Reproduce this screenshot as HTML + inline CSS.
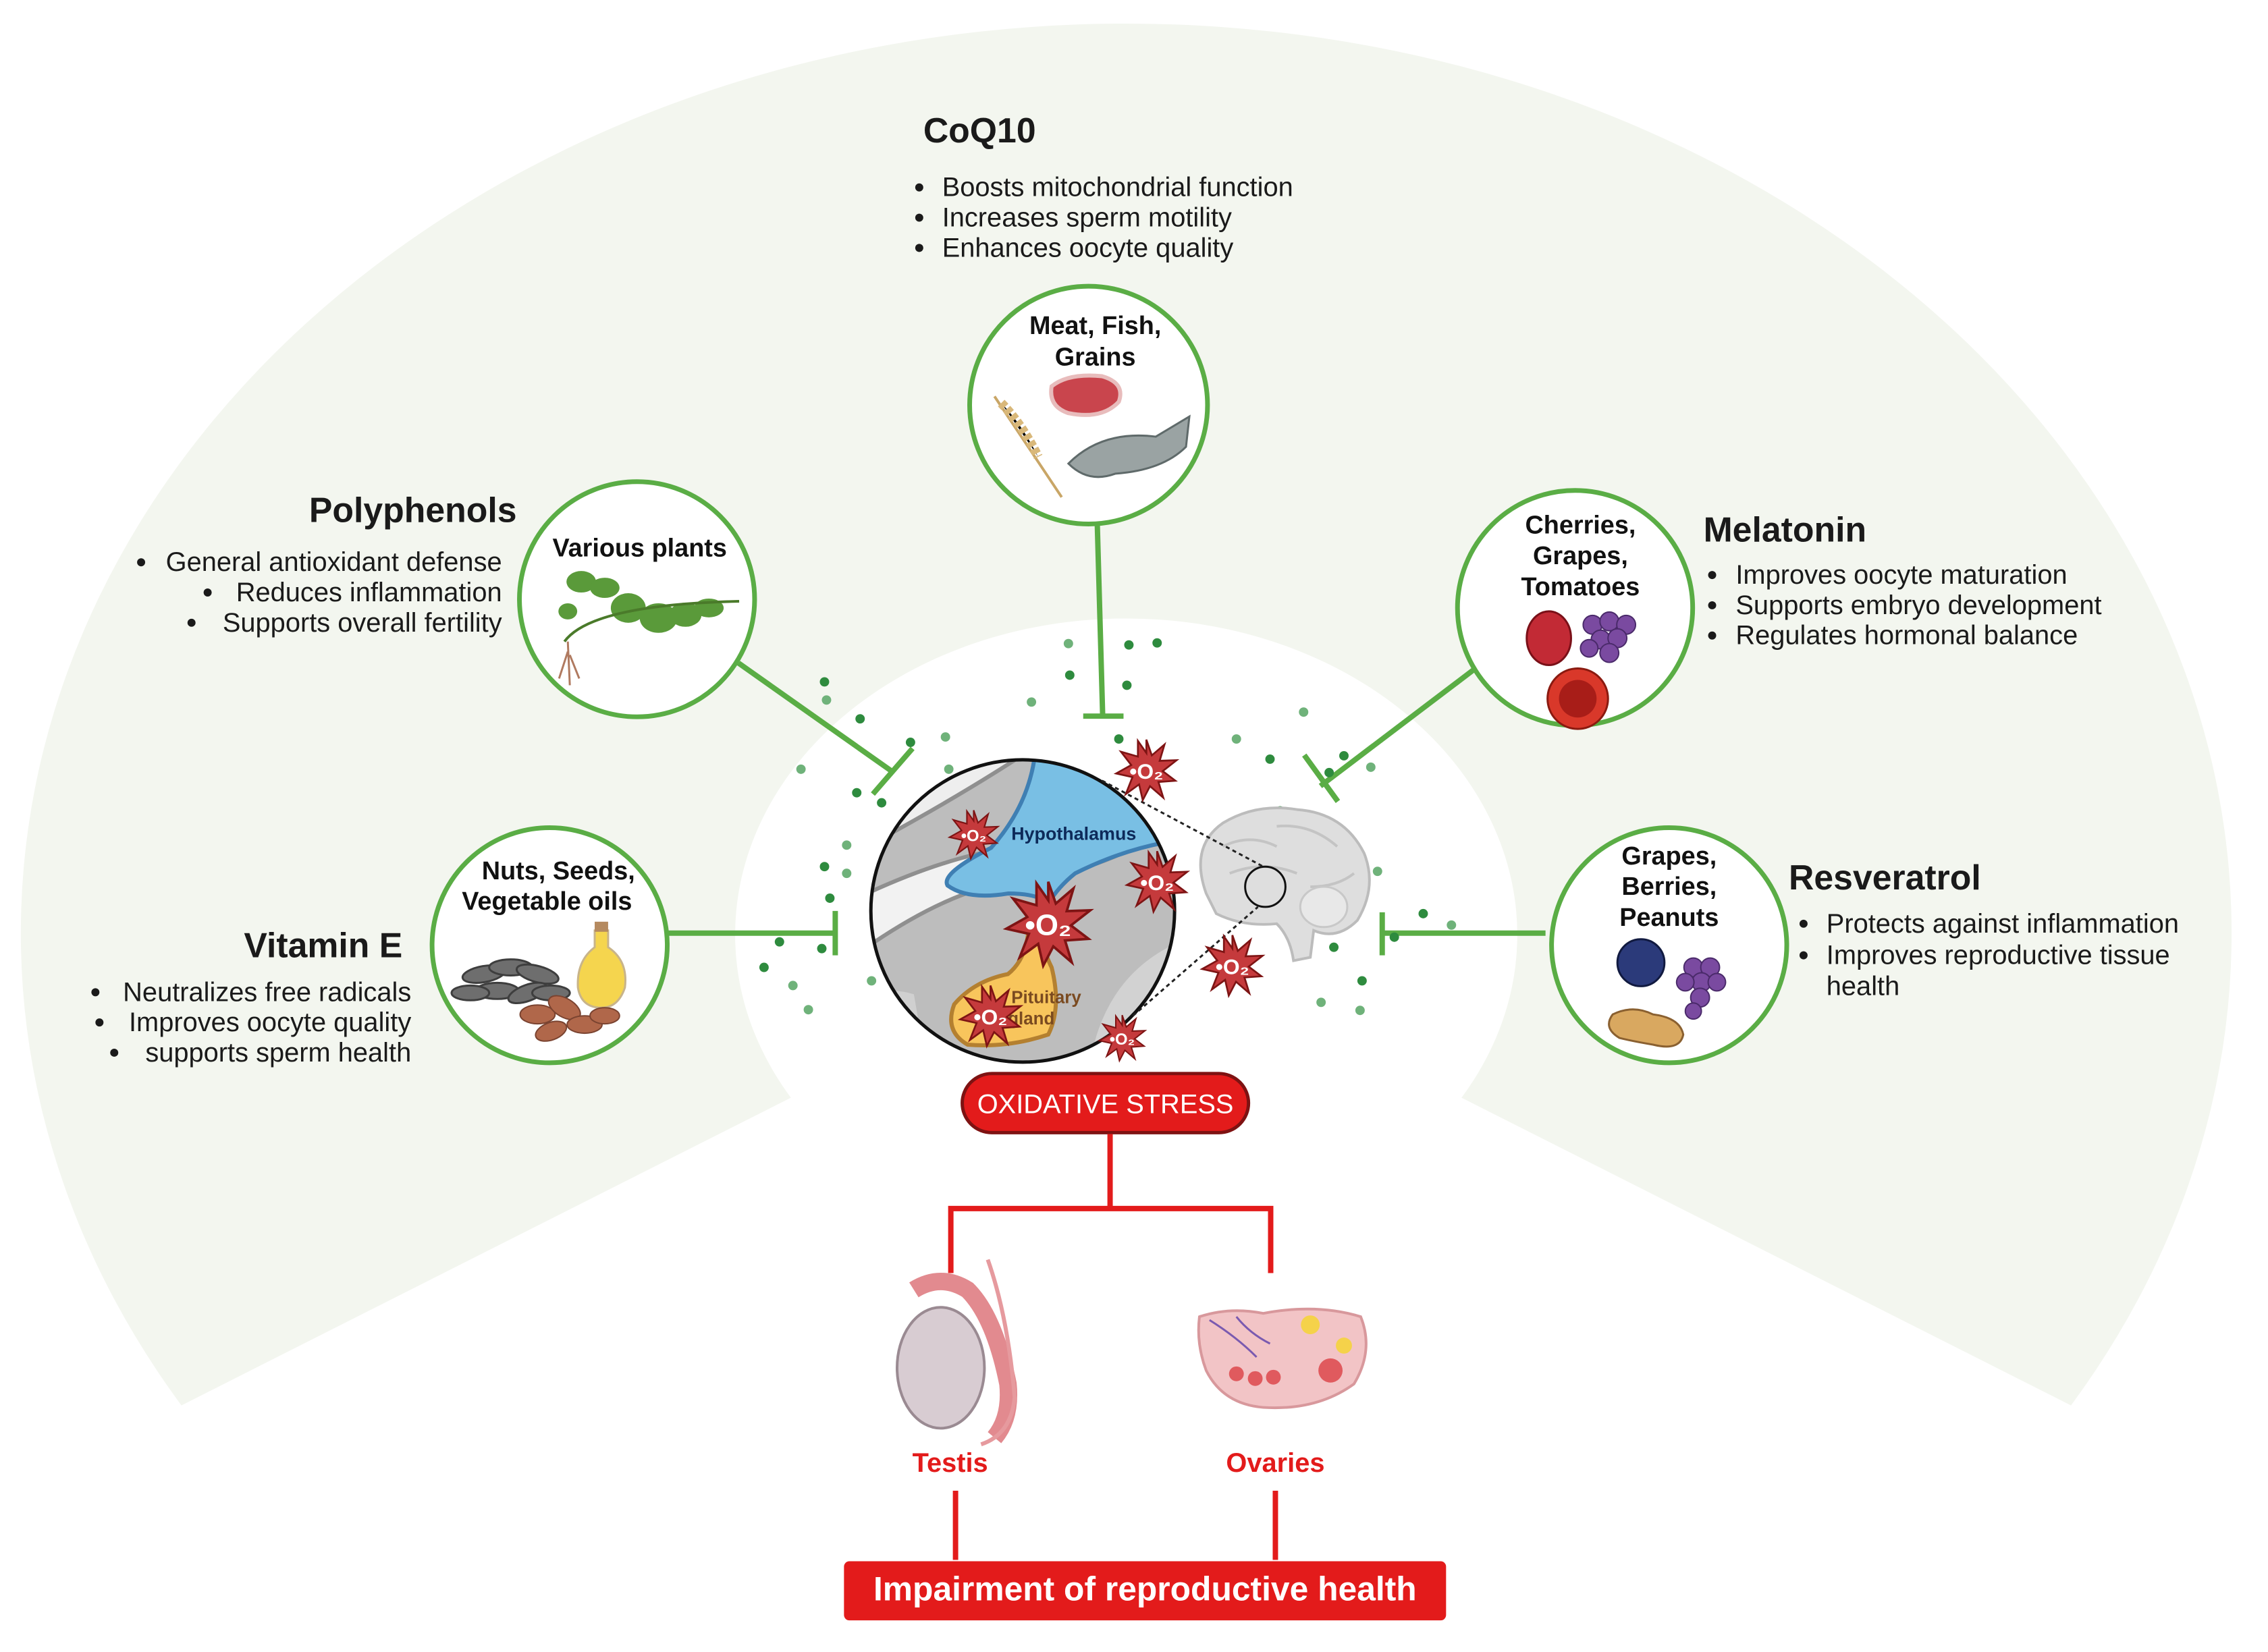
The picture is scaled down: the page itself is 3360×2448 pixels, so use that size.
<!DOCTYPE html>
<html><head><meta charset="utf-8"><style>
html,body{margin:0;padding:0;background:#fff;}
svg{display:block;font-family:"Liberation Sans",Arial,sans-serif;}
</style></head><body>
<svg width="3360" height="2448" viewBox="0 0 3360 2448" xmlns="http://www.w3.org/2000/svg">
<defs>
<clipPath id="cc"><ellipse cx="1522" cy="1356" rx="226" ry="225"/></clipPath>
<g id="star">
<polygon points="0,-50 9,-24 30,-42 22,-15 50,-16 27,2 48,18 20,20 28,46 6,27 -6,50 -12,24 -34,40 -23,12 -50,6 -25,-8 -42,-30 -14,-22 -14,-48 0,-28" fill="#c53a3c" stroke="#7e1414" stroke-width="3"/>
</g>
</defs>
<g transform="scale(0.9955)">
<!-- fan -->
<path d="M270,2092 A1645,1354 0 1,1 3082,2092 L2175,1634 A582,471 0 1,0 1177,1634 Z" fill="#f3f6ef"/>

<!-- connectors -->
<g stroke="#5aad45" stroke-width="8" fill="none" stroke-linecap="butt">
<line x1="1633" y1="782" x2="1641" y2="1066"/><line x1="1612" y1="1066" x2="1672" y2="1066"/>
<line x1="1099" y1="987" x2="1330" y2="1150"/><line x1="1299" y1="1182" x2="1358" y2="1114"/>
<line x1="995" y1="1389" x2="1243" y2="1389"/><line x1="1243" y1="1356" x2="1243" y2="1422"/>
<line x1="2193" y1="997" x2="1965" y2="1170"/><line x1="1941" y1="1124" x2="1991" y2="1193"/>
<line x1="2300" y1="1389" x2="2057" y2="1389"/><line x1="2057" y1="1358" x2="2057" y2="1422"/>
</g>

<!-- green dots -->
<g fill="#2e8b3e">
<circle cx="1227" cy="1015" r="7"/><circle cx="1280" cy="1070" r="7"/><circle cx="1355" cy="1105" r="7"/><circle cx="1275" cy="1180" r="7"/><circle cx="1312" cy="1195" r="7"/>
<circle cx="1227" cy="1290" r="7"/><circle cx="1235" cy="1337" r="7"/><circle cx="1160" cy="1402" r="7"/><circle cx="1223" cy="1412" r="7"/><circle cx="1137" cy="1440" r="7"/>
<circle cx="1680" cy="960" r="7"/><circle cx="1677" cy="1020" r="7"/><circle cx="1592" cy="1005" r="7"/><circle cx="1665" cy="1100" r="7"/><circle cx="1722" cy="957" r="7"/>
<circle cx="1890" cy="1130" r="7"/><circle cx="1978" cy="1150" r="7"/><circle cx="2000" cy="1125" r="7"/><circle cx="1905" cy="1207" r="7"/>
<circle cx="2118" cy="1360" r="7"/><circle cx="2075" cy="1395" r="7"/><circle cx="2027" cy="1460" r="7"/><circle cx="2007" cy="1369" r="7"/><circle cx="1985" cy="1410" r="7"/>
</g>
<g fill="#6fb27a">
<circle cx="1230" cy="1042" r="7"/><circle cx="1192" cy="1145" r="7"/><circle cx="1260" cy="1258" r="7"/><circle cx="1180" cy="1467" r="7"/><circle cx="1203" cy="1503" r="7"/><circle cx="1297" cy="1460" r="7"/>
<circle cx="1590" cy="958" r="7"/><circle cx="1535" cy="1045" r="7"/><circle cx="1407" cy="1097" r="7"/><circle cx="1412" cy="1145" r="7"/><circle cx="1260" cy="1300" r="7"/>
<circle cx="1840" cy="1100" r="7"/><circle cx="1940" cy="1060" r="7"/><circle cx="2040" cy="1142" r="7"/><circle cx="1838" cy="1300" r="7"/><circle cx="2050" cy="1297" r="7"/><circle cx="2160" cy="1377" r="7"/><circle cx="1966" cy="1492" r="7"/><circle cx="2024" cy="1504" r="7"/>
</g>

<!-- central circle -->
<g clip-path="url(#cc)">
<rect x="1290" y="1125" width="470" height="470" fill="#bdbdbd"/>
<path d="M1290,1330 Q1420,1270 1520,1260 Q1640,1240 1760,1170 L1760,1220 Q1640,1300 1520,1310 Q1420,1320 1290,1410 Z" fill="#f2f2f2" stroke="#8f8f8f" stroke-width="6"/>
<path d="M1290,1190 Q1380,1160 1460,1125 L1520,1125 Q1420,1190 1290,1260 Z" fill="#eeeeee" stroke="#8f8f8f" stroke-width="6"/>
<path d="M1620,1595 Q1640,1450 1760,1400 L1760,1595 Z" fill="#d2d2d2"/>
<path d="M1290,1480 Q1330,1470 1360,1480 L1380,1595 L1290,1595 Z" fill="#d0d0d0"/>
<path d="M1540,1125 Q1530,1200 1475,1262 Q1400,1300 1410,1318 Q1440,1340 1500,1330 Q1545,1330 1560,1345 Q1575,1320 1600,1300 Q1680,1260 1760,1250 L1760,1125 Z" fill="#79bfe4" stroke="#3f7fb3" stroke-width="6"/>
<path d="M1545,1385 Q1555,1420 1565,1440 Q1580,1500 1560,1540 Q1500,1560 1440,1555 Q1405,1535 1420,1495 Q1450,1460 1500,1450 Q1525,1430 1530,1390 Z" fill="#f8c55c" stroke="#b48030" stroke-width="6"/>
<text x="1505" y="1493" font-size="26" font-weight="bold" fill="#7a4a20">Pituitary</text>
<text x="1500" y="1525" font-size="26" font-weight="bold" fill="#7a4a20">gland</text>
</g>
<ellipse cx="1522" cy="1356" rx="226" ry="225" fill="none" stroke="#111" stroke-width="5"/>
<text x="1505" y="1250" font-size="27" font-weight="bold" fill="#0d2a5a">Hypothalamus</text>

<!-- brain -->
<g>
<path d="M1795,1330 Q1770,1260 1820,1225 Q1870,1195 1930,1205 Q2000,1210 2030,1270 Q2050,1320 2020,1370 Q1990,1400 1955,1385 L1950,1425 L1925,1430 Q1920,1395 1900,1375 Q1850,1380 1810,1360 Z" fill="#dedede" stroke="#bcbcbc" stroke-width="4"/>
<path d="M1820,1260 Q1860,1240 1900,1260 M1830,1300 Q1880,1280 1930,1300 M1900,1230 Q1950,1225 1990,1260 M1950,1320 Q1990,1320 2015,1300" stroke="#c4c4c4" stroke-width="4" fill="none"/>
<ellipse cx="1970" cy="1350" rx="35" ry="30" fill="#e8e8e8" stroke="#c8c8c8" stroke-width="3"/>
<ellipse cx="1883" cy="1320" rx="30" ry="30" fill="none" stroke="#111" stroke-width="3"/>
</g>
<g stroke="#222" stroke-width="3" stroke-dasharray="6,5">
<line x1="1640" y1="1162" x2="1880" y2="1290"/>
<line x1="1686" y1="1512" x2="1872" y2="1350"/>
</g>

<!-- O2 stars -->
<g font-weight="bold" fill="#fff" text-anchor="middle">
<use href="#star" transform="translate(1706,1146) scale(0.9)"/><text x="1706" y="1159" font-size="32">•O₂</text>
<use href="#star" transform="translate(1449,1242) scale(0.72)"/><text x="1449" y="1252" font-size="24">•O₂</text>
<use href="#star" transform="translate(1560,1375) scale(1.25)"/><text x="1560" y="1392" font-size="44">•O₂</text>
<use href="#star" transform="translate(1722,1312) scale(0.9)"/><text x="1722" y="1325" font-size="32">•O₂</text>
<use href="#star" transform="translate(1474,1512) scale(0.9)"/><text x="1474" y="1525" font-size="32">•O₂</text>
<use href="#star" transform="translate(1834,1437) scale(0.9)"/><text x="1834" y="1450" font-size="32">•O₂</text>
<use href="#star" transform="translate(1670,1545) scale(0.68)"/><text x="1670" y="1555" font-size="24">•O₂</text>
</g>

<!-- nutrient circles -->
<g fill="#fff" stroke="#5aad45" stroke-width="7">
<circle cx="1620" cy="603" r="177"/>
<circle cx="948" cy="892" r="175"/>
<circle cx="818" cy="1407" r="175"/>
<circle cx="2344" cy="905" r="175"/>
<circle cx="2484" cy="1407" r="175"/>
</g>

<!-- icons -->
<path d="M1565,575 Q1590,555 1640,560 Q1675,570 1665,598 Q1640,625 1590,615 Q1560,605 1565,575Z" fill="#c9454d" stroke="#e8bcbc" stroke-width="6"/>
<path d="M1590,690 Q1640,640 1720,650 L1770,620 L1765,665 Q1730,700 1660,705 Q1620,720 1590,690Z" fill="#9aa3a3" stroke="#5f6a6a" stroke-width="3"/>
<path d="M1480,590 L1580,740" stroke="#c9a667" stroke-width="4"/>
<path d="M1490,600 Q1520,630 1545,680" stroke="#d9b87a" stroke-width="14" stroke-dasharray="8,4"/>
<g fill="#5a9a3a">
<ellipse cx="865" cy="866" rx="22" ry="16"/><ellipse cx="900" cy="875" rx="22" ry="15"/><ellipse cx="935" cy="905" rx="26" ry="22"/><ellipse cx="980" cy="920" rx="28" ry="22"/><ellipse cx="1020" cy="915" rx="24" ry="18"/><ellipse cx="1055" cy="905" rx="22" ry="14"/><ellipse cx="845" cy="910" rx="14" ry="12"/>
</g>
<path d="M840,955 Q880,900 1100,895" stroke="#4a7a2a" stroke-width="4" fill="none"/>
<path d="M845,955 L848,1020 M845,970 L832,1010 M848,975 L862,1010" stroke="#b07a60" stroke-width="3"/>
<g fill="#6e6e6e" stroke="#3e3e3e" stroke-width="3">
<ellipse cx="720" cy="1450" rx="32" ry="12" transform="rotate(-10 720 1450)"/><ellipse cx="760" cy="1440" rx="32" ry="12"/><ellipse cx="800" cy="1450" rx="32" ry="12" transform="rotate(15 800 1450)"/><ellipse cx="740" cy="1475" rx="32" ry="12"/><ellipse cx="785" cy="1478" rx="30" ry="12" transform="rotate(-20 785 1478)"/><ellipse cx="700" cy="1478" rx="28" ry="11"/><ellipse cx="820" cy="1478" rx="28" ry="11"/>
</g>
<path d="M885,1385 L905,1385 L905,1410 Q935,1430 930,1470 Q920,1500 895,1500 Q865,1500 860,1470 Q858,1430 885,1410Z" fill="#f5d54e" stroke="#c8b48a" stroke-width="3"/>
<rect x="885" y="1372" width="20" height="15" fill="#b58a60"/>
<g fill="#b0674a" stroke="#7a4330" stroke-width="2">
<ellipse cx="800" cy="1510" rx="26" ry="14"/><ellipse cx="840" cy="1500" rx="26" ry="14" transform="rotate(30 840 1500)"/><ellipse cx="870" cy="1525" rx="26" ry="13"/><ellipse cx="820" cy="1535" rx="24" ry="13" transform="rotate(-20 820 1535)"/><ellipse cx="900" cy="1512" rx="22" ry="12"/>
</g>
<ellipse cx="2305" cy="950" rx="33" ry="40" fill="#c22a35" stroke="#7a1018" stroke-width="3"/>
<g fill="#7a4aa0" stroke="#4a2a6a" stroke-width="2">
<circle cx="2370" cy="930" r="14"/><circle cx="2395" cy="925" r="14"/><circle cx="2420" cy="930" r="14"/><circle cx="2382" cy="952" r="14"/><circle cx="2407" cy="950" r="14"/><circle cx="2395" cy="972" r="14"/><circle cx="2365" cy="965" r="13"/>
</g>
<circle cx="2348" cy="1040" r="45" fill="#d9382a" stroke="#8a1a10" stroke-width="3"/>
<circle cx="2348" cy="1040" r="28" fill="#a81d18"/>
<circle cx="2442" cy="1433" r="35" fill="#2b3a7a" stroke="#111a40" stroke-width="3"/>
<g fill="#7a4aa0" stroke="#4a2a6a" stroke-width="2">
<circle cx="2520" cy="1440" r="14"/><circle cx="2545" cy="1440" r="14"/><circle cx="2532" cy="1462" r="14"/><circle cx="2508" cy="1462" r="13"/><circle cx="2555" cy="1462" r="13"/><circle cx="2530" cy="1485" r="14"/><circle cx="2520" cy="1505" r="12"/>
</g>
<path d="M2400,1510 Q2430,1495 2460,1510 Q2500,1515 2505,1540 Q2500,1565 2460,1555 Q2430,1550 2410,1545 Q2385,1530 2400,1510Z" fill="#d9a860" stroke="#8a6030" stroke-width="3"/>

<!-- nutrient texts -->
<g font-weight="bold" fill="#111" font-size="38" text-anchor="middle">
<text x="1630" y="497">Meat, Fish,</text><text x="1630" y="544">Grains</text>
<text x="952" y="828">Various plants</text>
<text x="831" y="1309">Nuts, Seeds,</text><text x="814" y="1354">Vegetable oils</text>
<text x="2352" y="794">Cherries,</text><text x="2352" y="840">Grapes,</text><text x="2352" y="886">Tomatoes</text>
<text x="2484" y="1287">Grapes,</text><text x="2484" y="1332">Berries,</text><text x="2484" y="1378">Peanuts</text>
</g>

<g fill="#1a1a1a">
<text x="1374" y="212" font-size="52" font-weight="bold">CoQ10</text>
<g font-size="40">
<text x="1402" y="292">Boosts mitochondrial function</text>
<text x="1402" y="337">Increases sperm motility</text>
<text x="1402" y="382">Enhances oocyte quality</text>
</g>
<g><circle cx="1368" cy="279" r="6"/><circle cx="1368" cy="324" r="6"/><circle cx="1368" cy="369" r="6"/></g>

<text x="769" y="777" font-size="52" font-weight="bold" text-anchor="end">Polyphenols</text>
<g font-size="40" text-anchor="end">
<text x="747" y="850">General antioxidant defense</text>
<text x="747" y="895">Reduces inflammation</text>
<text x="747" y="940">Supports overall fertility</text>
</g>
<circle cx="210" cy="837" r="6"/><circle cx="309" cy="882" r="6"/><circle cx="285" cy="927" r="6"/>

<text x="599" y="1425" font-size="52" font-weight="bold" text-anchor="end">Vitamin E</text>
<g font-size="40" text-anchor="end">
<text x="612" y="1490">Neutralizes free radicals</text>
<text x="612" y="1535">Improves oocyte quality</text>
<text x="612" y="1580">supports sperm health</text>
</g>
<circle cx="142" cy="1477" r="6"/><circle cx="148" cy="1522" r="6"/><circle cx="170" cy="1567" r="6"/>

<text x="2535" y="806" font-size="52" font-weight="bold">Melatonin</text>
<g font-size="40">
<text x="2583" y="869">Improves oocyte maturation</text>
<text x="2583" y="914">Supports embryo development</text>
<text x="2583" y="959">Regulates hormonal balance</text>
</g>
<circle cx="2548" cy="856" r="6"/><circle cx="2548" cy="901" r="6"/><circle cx="2548" cy="946" r="6"/>

<text x="2662" y="1324" font-size="52" font-weight="bold">Resveratrol</text>
<g font-size="40">
<text x="2718" y="1388">Protects against inflammation</text>
<text x="2718" y="1435">Improves reproductive tissue</text>
<text x="2718" y="1481">health</text>
</g>
<circle cx="2684" cy="1375" r="6"/><circle cx="2684" cy="1422" r="6"/>
</g>

<!-- oxidative stress -->
<rect x="1432" y="1598" width="426" height="88" rx="44" fill="#e31b1b" stroke="#7e1212" stroke-width="5"/>
<text x="1645" y="1657" font-size="40" fill="#fff" text-anchor="middle">OXIDATIVE STRESS</text>
<g stroke="#e31b1b" stroke-width="8" fill="none">
<path d="M1652,1688 L1652,1799 M1415,1895 L1415,1799 L1891,1799 L1891,1895"/>
<line x1="1422" y1="2219" x2="1422" y2="2322"/><line x1="1898" y1="2219" x2="1898" y2="2322"/>
</g>
<path d="M1360,1920 Q1400,1895 1440,1920 Q1480,1960 1500,2060 Q1505,2110 1480,2140" stroke="#e28a8f" stroke-width="26" fill="none"/>
<path d="M1470,1875 Q1500,1960 1510,2080 Q1505,2135 1460,2150" stroke="#e69a9e" stroke-width="6" fill="none"/>
<ellipse cx="1400" cy="2036" rx="65" ry="90" fill="#d8ccd2" stroke="#9a8a92" stroke-width="4"/>
<path d="M1785,1960 Q1830,1945 1880,1955 Q1960,1940 2025,1960 Q2045,2010 2015,2060 Q1960,2100 1880,2095 Q1820,2090 1795,2040 Q1780,2000 1785,1960Z" fill="#f2c4c6" stroke="#d8989c" stroke-width="4"/>
<g fill="#e05a5e"><circle cx="1840" cy="2045" r="11"/><circle cx="1868" cy="2052" r="11"/><circle cx="1895" cy="2050" r="11"/><circle cx="1980" cy="2040" r="18"/></g>
<g fill="#f5d24a"><circle cx="1950" cy="1972" r="14"/><circle cx="2000" cy="2003" r="12"/></g>
<path d="M1800,1965 Q1840,1990 1870,2020 M1840,1960 Q1860,1985 1890,2000" stroke="#7a5ab0" stroke-width="3" fill="none"/>
<g font-weight="bold" fill="#e31b1b" font-size="40" text-anchor="middle">
<text x="1414" y="2191">Testis</text><text x="1898" y="2191">Ovaries</text>
</g>
<rect x="1256" y="2324" width="896" height="88" rx="8" fill="#e31b1b"/>
<text x="1704" y="2382" font-size="50" font-weight="bold" fill="#fff" text-anchor="middle">Impairment of reproductive health</text>
</g>
</svg>
</body></html>
